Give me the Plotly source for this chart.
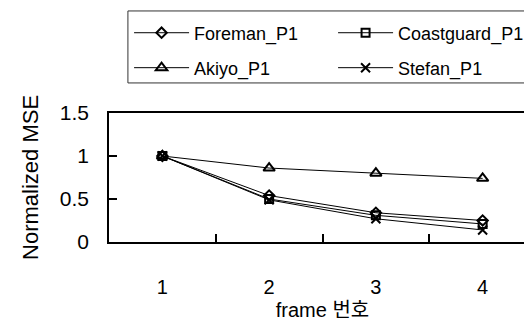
import plotly.graph_objects as go

frames = ["1", "2", "3", "4"]
foreman = [1.0, 0.54, 0.34, 0.25]
coastguard = [1.0, 0.50, 0.31, 0.21]
akiyo = [1.0, 0.86, 0.80, 0.74]
stefan = [1.0, 0.49, 0.27, 0.14]

y_ticks = [0, 0.5, 1, 1.5]
y_labels = ["0", "0.5", "1", "1.5"]

FONT = "Liberation Sans, Arial, Noto Sans CJK KR, sans-serif"

series = [
    ("Foreman_P1", foreman, "diamond-open", 8, "legend"),
    ("Coastguard_P1", coastguard, "square-open", 8, "legend"),
    ("Akiyo_P1", akiyo, "triangle-up-open", 10, "legend2"),
    ("Stefan_P1", stefan, "x-thin-open", 9, "legend2"),
]

fig = go.Figure()
for name, vals, sym, sz, lg in series:
    fig.add_trace(go.Scatter(
        x=frames, y=vals, name=name, mode="lines+markers", legend=lg,
        line=dict(color="black", width=1),
        marker=dict(symbol=sym, size=sz, color="black",
                    line=dict(color="black", width=2)),
    ))

leg_common = dict(
    orientation="h", xanchor="left", yanchor="middle",
    entrywidth=134, entrywidthmode="pixels", itemwidth=55,
    borderwidth=0, bgcolor="rgba(0,0,0,0)",
    font=dict(size=18, family=FONT, color="black"),
    traceorder="normal",
)

fig.update_layout(
    width=532, height=328,
    margin=dict(l=101, r=2, t=105, b=94),
    paper_bgcolor="white", plot_bgcolor="white",
    font=dict(family=FONT, size=19, color="black"),
    showlegend=True,
    legend=dict(x=0.047, y=1.62, **leg_common),
    legend2=dict(x=0.047, y=1.349, **leg_common),
    shapes=[dict(type="rect", xref="paper", yref="paper",
                 x0=0.0443, x1=0.9767, y0=1.233, y1=1.791,
                 line=dict(color="#333", width=1))],
)

fig.update_xaxes(
    type="category", tickson="boundaries", ticks="inside", ticklen=8,
    tickcolor="black", tickwidth=1.5,
    showline=True, linecolor="black", linewidth=1.5, mirror=True,
    showgrid=False, range=[-0.5, 3.5],
    tickfont=dict(size=20), ticklabelstandoff=26,
    title=dict(text="frame 번호", font=dict(size=20), standoff=6),
)
fig.update_yaxes(
    range=[0, 1.5], tickvals=y_ticks, ticktext=y_labels,
    ticks="inside", ticklen=8, tickcolor="black", tickwidth=1.5,
    showline=True, linecolor="black", linewidth=1.5, mirror=True,
    showgrid=False, zeroline=False,
    tickfont=dict(size=21), ticklabelstandoff=14,
)

fig.add_annotation(
    text="Normalized MSE", textangle=-90, xref="paper", yref="paper",
    x=-0.184, y=0.5, xanchor="center", yanchor="middle", showarrow=False,
    font=dict(size=22),
)

fig.write_html("out.html")
